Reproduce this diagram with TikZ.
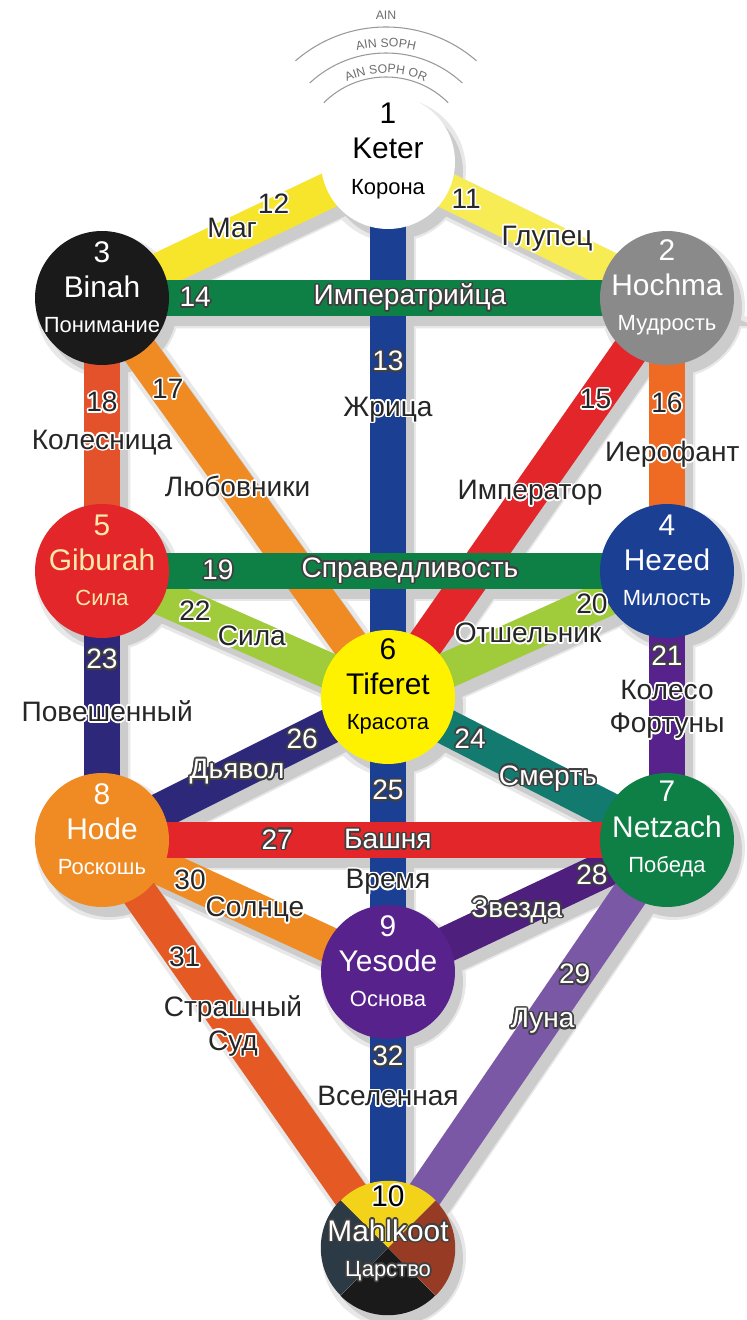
\documentclass[tikz,border=0pt]{standalone}
\usepackage{fontspec}
\setmainfont{Liberation Sans}
\usepackage{contour}
\contourlength{0.9pt}
\usetikzlibrary{decorations.text}
\pgfdeclarelayer{shade}
\pgfdeclarelayer{bars}
\pgfsetlayers{shade,bars,main}
\definecolor{cyel}{HTML}{F6E52A}
\definecolor{cyelb}{HTML}{F8EC55}
\definecolor{cblue}{HTML}{1B3F93}
\definecolor{cgreen}{HTML}{0E7F45}
\definecolor{cred}{HTML}{E3262A}
\definecolor{corange}{HTML}{EF6B23}
\definecolor{camber}{HTML}{F08B24}
\definecolor{cblood}{HTML}{E3522B}
\definecolor{clime}{HTML}{A0CB3B}
\definecolor{cviolet}{HTML}{57228C}
\definecolor{cindigo}{HTML}{2D2879}
\definecolor{cteal}{HTML}{137A70}
\definecolor{cplum}{HTML}{4E1F7C}
\definecolor{clilac}{HTML}{7B58A5}
\definecolor{crust}{HTML}{E55A24}
\definecolor{cgrey}{HTML}{8A8A8A}
\definecolor{cink}{HTML}{1A1A1A}
\definecolor{csun}{HTML}{FFF200}
\definecolor{cpale}{HTML}{FFE9A8}
\definecolor{cgold}{HTML}{F2D31A}
\definecolor{cslate}{HTML}{2C3A46}
\definecolor{cbrown}{HTML}{973B24}
\definecolor{cain}{HTML}{6E6E6E}
\tikzstyle{sefira}=[circle, minimum size=2.68cm, inner sep=0pt]
\tikzstyle{stext}=[align=center, font=\fontsize{17}{20}\selectfont]
\tikzstyle{pathlbl}=[font=\fontsize{16}{19}\selectfont, text=black!85, align=center, inner sep=0pt]
\tikzset{channel/.style={draw=#1, line width=0.72cm}}
\tikzstyle{ainline}=[draw=cain!70, line width=0.6pt]
\newcommand{\txd}[1]{\contour{white}{#1}}
\newcommand{\txw}[1]{\textcolor{white}{\contour{black!75}{#1}}}
\newcommand{\rus}[1]{{\fontsize{12.5}{17}\selectfont #1}}
\begin{document}
\begin{tikzpicture}[x=0.02cm, y=0.02cm]
    \useasboundingbox (0,0) rectangle (747,1320);
    \node[sefira, fill=white](s1) at (388,1158){};
    \node[sefira, fill=cgrey](s2) at (667,1022){};
    \node[sefira, fill=cink](s3) at (102,1022){};
    \node[sefira, fill=cblue](s4) at (667,749){};
    \node[sefira, fill=cred](s5) at (102,749){};
    \node[sefira, fill=csun](s6) at (388,623){};
    \node[sefira, fill=cgreen](s7) at (667,480){};
    \node[sefira, fill=camber](s8) at (102,480){};
    \node[sefira, fill=cviolet](s9) at (388,348){};
    \node[sefira](s10) at (388,72){};
    \fill[cgold] (s10.center) -- (s10.45) arc[start angle=45, end angle=135, radius=67] -- cycle;
    \fill[cbrown] (s10.center) -- (s10.-45) arc[start angle=-45, end angle=45, radius=67] -- cycle;
    \fill[cink] (s10.center) -- (s10.-135) arc[start angle=-135, end angle=-45, radius=67] -- cycle;
    \fill[cslate] (s10.center) -- (s10.135) arc[start angle=135, end angle=225, radius=67] -- cycle;
    \node[stext, text=black](t1) at ([yshift=0.22cm]s1.center){1\\Keter\\\rus{Корона}};
    \node[stext, text=white](t2) at ([yshift=0.22cm]s2.center){2\\Hochma\\\rus{Мудрость}};
    \node[stext, text=white](t3) at ([yshift=0.22cm]s3.center){3\\Binah\\\rus{Понимание}};
    \node[stext, text=white](t4) at ([yshift=0.22cm]s4.center){4\\Hezed\\\rus{Милость}};
    \node[stext, text=cpale](t5) at ([yshift=0.22cm]s5.center){5\\Giburah\\\rus{Сила}};
    \node[stext, text=black](t6) at ([yshift=0.22cm]s6.center){6\\Tiferet\\\rus{Красота}};
    \node[stext, text=white](t7) at ([yshift=0.22cm]s7.center){7\\Netzach\\\rus{Победа}};
    \node[stext, text=white](t8) at ([yshift=0.22cm]s8.center){8\\Hode\\\rus{Роскошь}};
    \node[stext, text=white](t9) at ([yshift=0.22cm]s9.center){9\\Yesode\\\rus{Основа}};
    \node[stext, text=black](t10) at ([yshift=0.28cm]s10.center){\txd{10}\\\txw{Mahlkoot}\\\rus{\txw{Царство}}};
    \begin{pgfonlayer}{shade}
    \fill[white] (0,0) rectangle (747,1320);
    \begin{scope}[transform canvas={shift={(0.12cm,-0.16cm)}}, line width=0.9cm, draw=gray!18]
    \draw (s3.center) -- (s1.center) -- (s2.center) -- (s3.center) -- (s5.center) -- (s8.center) -- (s10.center) -- (s7.center) -- (s4.center) -- (s2.center);
    \draw (s5.center) -- (s4.center) (s8.center) -- (s7.center) (s1.center) -- (s10.center);
    \draw (s3.center) -- (s6.center) -- (s2.center) (s5.center) -- (s6.center) -- (s4.center) (s8.center) -- (s6.center) -- (s7.center) (s8.center) -- (s9.center) -- (s7.center);
    \foreach \s in {1,...,10} \fill[gray!18] (s\s.center) circle[radius=72];
    \end{scope}
    \begin{scope}[transform canvas={shift={(0.16cm,-0.2cm)}}, line width=0.72cm, draw=gray!40]
    \draw (s3.center) -- (s1.center) -- (s2.center) -- (s3.center) -- (s5.center) -- (s8.center) -- (s10.center) -- (s7.center) -- (s4.center) -- (s2.center);
    \draw (s5.center) -- (s4.center) (s8.center) -- (s7.center) (s1.center) -- (s10.center);
    \draw (s3.center) -- (s6.center) -- (s2.center) (s5.center) -- (s6.center) -- (s4.center) (s8.center) -- (s6.center) -- (s7.center) (s8.center) -- (s9.center) -- (s7.center);
    \foreach \s in {1,...,10} \fill[gray!40] (s\s.center) circle[radius=67];
    \end{scope}
    \end{pgfonlayer}
    \begin{pgfonlayer}{bars}
    \path
    (s1.center) edge [channel=cblue] (s6.center)
    (s6.center) edge [channel=cblue] (s9.center)
    (s9.center) edge [channel=cblue] (s10.center)
    (s3.center) edge [channel=camber] (s6.center)
    (s2.center) edge [channel=cred] (s6.center)
    (s5.center) edge [channel=clime] (s6.center)
    (s4.center) edge [channel=clime] (s6.center)
    (s6.center) edge [channel=cindigo] (s8.center)
    (s6.center) edge [channel=cteal] (s7.center)
    (s8.center) edge [channel=camber] (s9.center)
    (s7.center) edge [channel=cplum] (s9.center)
    (s8.center) edge [channel=crust] (s10.center)
    (s7.center) edge [channel=clilac] (s10.center)
    (s3.center) edge [channel=cyel] (s1.center)
    (s1.center) edge [channel=cyelb] (s2.center)
    (s3.center) edge [channel=cblood] (s5.center)
    (s2.center) edge [channel=corange] (s4.center)
    (s5.center) edge [channel=cindigo] (s8.center)
    (s4.center) edge [channel=cviolet] (s7.center)
    (s3.center) edge [channel=cgreen] (s2.center)
    (s5.center) edge [channel=cgreen] (s4.center)
    (s8.center) edge [channel=cred] (s7.center)
    ;
    \end{pgfonlayer}
    \path[every node/.style=pathlbl]
    (s3.center) -- (s1.center) node[pos=.6, yshift=7pt](n12){\txd{12}} node[pos=.455, yshift=4pt](w12){\txd{Маг}}
    (s1.center) -- (s2.center) node[pos=.28](n11){\txd{11}} node[pos=.57](w11){\txd{Глупец}}
    (s3.center) -- (s2.center) node[pos=.165](n14){\txw{14}} node[pos=.545](w14){\txw{Императрийца}}
    (s1.center) -- (s6.center) node[pos=.374](n13){\txw{13}} node[pos=.464](w13){\txd{Жрица}}
    (s3.center) -- (s5.center) node[pos=.385](n18){\txd{18}} node[pos=.531](w18){\txd{Колесница}}
    (s3.center) -- (s6.center) node[pos=.23](n17){\txd{17}} node[pos=.474](w17){\txd{Любовники}}
    (s2.center) -- (s6.center) node[pos=.256](n15){\txd{15}} node[pos=.491](w15){\txd{Император}}
    (s2.center) -- (s4.center) node[pos=.388](n16){\txd{16}} node[pos=.575, xshift=3pt](w16){\txd{Иерофант}}
    (s5.center) -- (s4.center) node[pos=.205](n19){\txw{19}} node[pos=.545](w19){\txw{Справедливость}}
    (s5.center) -- (s6.center) node[pos=.325](n22){\txd{22}} node[pos=.524](w22){\txd{Сила}}
    (s4.center) -- (s6.center) node[pos=.269](n20){\txd{20}} node[pos=.498](w20){\txd{Отшельник}}
    (s5.center) -- (s8.center) node[pos=.331](n23){\txw{23}} node[pos=.524, xshift=3pt](w23){\txd{Повешенный}}
    (s4.center) -- (s7.center) node[pos=.316](n21){\txw{21}} node[pos=.517](w21){\txd{Колесо}\\\txd{Фортуны}}
    (s6.center) -- (s8.center) node[pos=.30](n26){\txw{26}} node[pos=.528](w26){\txw{Дьявол}}
    (s6.center) -- (s7.center) node[pos=.294](n24){\txw{24}} node[pos=.573](w24){\txw{Смерть}}
    (s6.center) -- (s9.center) node[pos=.342](n25){\txw{25}} node[pos=.676](w25){\txd{Время}}
    (s8.center) -- (s7.center) node[pos=.31](n27){\txw{27}} node[pos=.506](w27){\txw{Башня}}
    (s8.center) -- (s9.center) node[pos=.308](n30){\txd{30}} node[pos=.535](w30){\txd{Солнце}}
    (s7.center) -- (s9.center) node[pos=.269](n28){\txw{28}} node[pos=.538](w28){\txw{Звезда}}
    (s8.center) -- (s10.center) node[pos=.289](n31){\txd{31}} node[pos=.458](w31){\txd{Страшный}\\\txd{Суд}}
    (s7.center) -- (s10.center) node[pos=.331](n29){\txw{29}} node[pos=.446](w29){\txw{Луна}}
    (s9.center) -- (s10.center) node[pos=.308](n32){\txw{32}} node[pos=.453](w32){\txd{Вселенная}}
    ;
    \coordinate (ain) at (386,1155);
    \draw[ainline] (ain) ++(49:138) arc[start angle=49, end angle=131, radius=138];
    \draw[ainline] (ain) ++(47:112) arc[start angle=47, end angle=133, radius=112];
    \draw[ainline] (ain) ++(45:88) arc[start angle=45, end angle=135, radius=88];
    \node[font=\fontsize{7}{8}\selectfont, text=cain](ain0) at (386,1305){AIN};
    \path[decorate, decoration={text along path, text align=center,
      text={|\fontsize{7}{8}\selectfont\color{cain}|AIN SOPH}}]
      (ain) ++(133:118) arc[start angle=133, end angle=47, radius=118];
    \path[decorate, decoration={text along path, text align=center,
      text={|\fontsize{7}{8}\selectfont\color{cain}|AIN SOPH OR}}]
      (ain) ++(135:92) arc[start angle=135, end angle=45, radius=92];
\end{tikzpicture}
\end{document}
